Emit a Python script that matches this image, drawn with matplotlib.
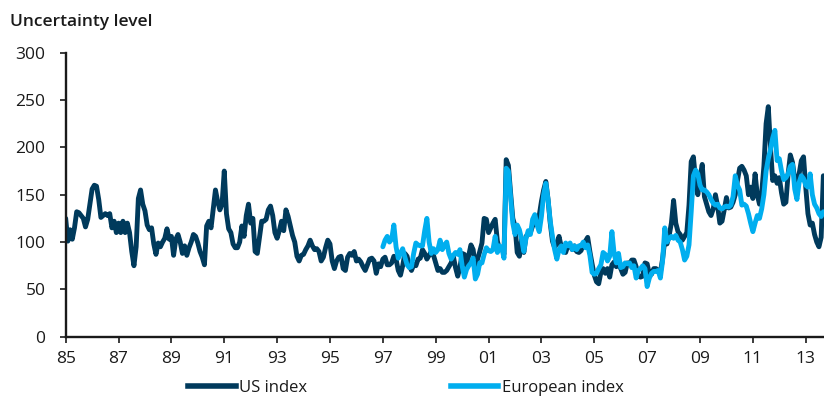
import numpy as np
import matplotlib
matplotlib.use("Agg")
import matplotlib.pyplot as plt
from matplotlib.lines import Line2D

plt.rcParams["font.family"] = ["Open Sans", "DejaVu Sans"]

# Monthly policy uncertainty indices
us_start_year = 1985          # first month: Jan 1985
eu_start_year = 1997          # first month: Jan 1997

us_index = [
    125, 101, 113, 103, 115, 132, 131, 128, 125, 116,
    124, 140, 156, 160, 159, 145, 126, 128, 130, 128,
    130, 115, 122, 110, 120, 110, 122, 110, 120, 110,
    90, 75, 95, 146, 155, 140, 133, 118, 113, 115,
    98, 87, 99, 95, 100, 104, 114, 103, 106, 86,
    103, 108, 100, 88, 96, 86, 94, 100, 108, 106,
    99, 90, 84, 76, 117, 122, 115, 135, 155, 143,
    134, 140, 175, 130, 114, 110, 98, 94, 94, 100,
    117, 106, 128, 140, 120, 125, 90, 88, 105, 122,
    122, 124, 134, 138, 128, 110, 104, 112, 122, 112,
    134, 127, 117, 107, 100, 85, 80, 86, 87, 92,
    96, 102, 96, 92, 93, 90, 80, 84,
    94, 102, 98, 80, 72, 80, 84, 85, 72, 70,
    84, 88, 86, 90, 80, 82, 79, 74, 70, 76,
    82, 83, 80, 67, 77, 74, 82, 84, 76, 76,
    78, 85, 82, 70, 65, 75, 88, 85, 75, 70,
    76, 75, 82, 83, 92, 88, 82, 86, 90, 86,
    78, 70, 72, 68,
    68, 70, 74, 78, 85, 73, 64, 73, 88, 87,
    75, 86, 97, 92, 73, 82, 90, 99, 125, 124,
    110, 115, 120, 124, 101, 92, 94, 87, 187, 181,
    152, 125, 117, 89, 85, 103, 89, 106, 108, 110,
    117, 124, 118, 128, 143, 155, 164, 145, 120, 101,
    94, 99, 106, 95, 92, 89, 96, 97, 92, 96,
    90, 89, 91, 97,
    101, 105, 90, 77, 65, 58, 56, 68, 72, 67,
    72, 63, 76, 79, 74, 78, 72, 66, 68, 78,
    77, 81, 81, 74, 64, 63, 64, 78, 77, 66,
    66, 72, 72, 70, 68, 82, 102, 98, 107, 120,
    144, 120, 111, 108, 102, 106, 110, 139, 185, 190,
    165, 150, 168, 182, 148, 140, 132, 128, 135, 150,
    138, 120, 122, 134, 147, 136, 137, 142, 150, 165,
    178, 180, 176, 170, 150, 158, 146, 172, 150, 140,
    152, 180, 225, 243, 200, 165, 170, 162, 168, 152,
    140, 142, 172, 192, 184, 166, 163, 172, 186, 190,
    158, 130, 118, 120, 108, 100, 95, 105, 170,
]

eu_index = [
    95, 102, 106, 100, 103, 118, 95, 83, 88, 93,
    84, 76, 73, 74, 88, 99, 97, 96, 96, 112,
    125, 100, 88, 93, 89, 92, 102, 92,
    97, 100, 88, 82, 86, 89, 87, 92, 75, 63,
    71, 75, 78, 83, 61, 66, 78, 78, 87, 94,
    91, 90, 92, 106, 89, 96, 94, 83, 178, 175,
    148, 120, 108, 118, 113, 103, 90, 104, 112, 108,
    124, 129, 118, 111, 127, 150, 162, 145, 122, 106,
    92, 82, 92, 96, 89, 99, 96, 99, 92, 96,
    92, 96, 96, 100,
    94, 97, 86, 68, 66, 67, 72, 76, 89, 87,
    80, 85, 111, 88, 78, 88, 73, 74, 78, 77,
    78, 73, 75, 62, 70, 72, 75, 72, 53, 62,
    67, 69, 69, 70, 62, 80, 115, 100, 104, 106,
    104, 107, 102, 100, 92, 81, 85, 97, 132, 170,
    176, 172, 160, 155, 155, 153, 150, 145, 141, 139,
    140, 136, 135, 137, 138, 137, 139, 148, 170, 160,
    155, 139, 140, 138, 130, 120, 111, 120, 128, 125,
    135, 150, 175, 188, 198, 210, 218, 186, 188, 175,
    166, 168, 172, 180, 182, 156, 145, 163, 170, 167,
    160, 158, 172, 150, 140, 136, 130, 127, 132,
]

year_ticks = list(range(1985, 2014, 2))
year_labels = [f"{y % 100:02d}" for y in year_ticks]
y_ticks = [0, 50, 100, 150, 200, 250, 300]

series_names = ["US index", "European index"]
us_color = "#003A5C"
eu_color = "#00AEEF"

us_t = us_start_year + np.arange(len(us_index)) / 12.0
eu_t = eu_start_year + np.arange(len(eu_index)) / 12.0

fig = plt.figure(figsize=(8.24, 3.99), dpi=100)
ax = fig.add_axes([0.0797, 0.156, 0.9203, 0.712])

ax.plot(us_t, us_index, color=us_color, lw=3.5, solid_joinstyle="round",
        solid_capstyle="round", zorder=2)
ax.plot(eu_t, eu_index, color=eu_color, lw=3.5, solid_joinstyle="round",
        solid_capstyle="round", zorder=3)

ax.set_xlim(1985, 1985 + 758.3 / 26.43)
ax.set_ylim(0, 300)
ax.set_xticks(year_ticks)
ax.set_xticklabels(year_labels)
ax.set_yticks(y_ticks)

for side in ("top", "right"):
    ax.spines[side].set_visible(False)
for side in ("left", "bottom"):
    ax.spines[side].set_linewidth(1.7)
    ax.spines[side].set_color("#1a1a1a")

ax.tick_params(axis="both", colors="#1a1a1a", labelsize=12.5, width=1.2,
               length=4.5, direction="out")
ax.tick_params(axis="y", pad=10)
ax.tick_params(axis="x", pad=6)

fig.text(10 / 824, 1 - 22 / 399, "Uncertainty level", fontsize=12.5,
         fontweight="semibold", color="#1a1a1a", ha="left", va="center")

handles = [Line2D([], [], color=us_color, lw=4),
           Line2D([], [], color=eu_color, lw=4)]
fig.legend(handles, series_names, loc="center left",
           bbox_to_anchor=(188 / 824, 1 - 388 / 399), ncol=2, frameon=False,
           fontsize=12, handlelength=2.85, handletextpad=0.22,
           columnspacing=8.6, borderpad=0, borderaxespad=0,
           labelcolor="#1a1a1a")

fig.savefig("out.png", dpi=100)
